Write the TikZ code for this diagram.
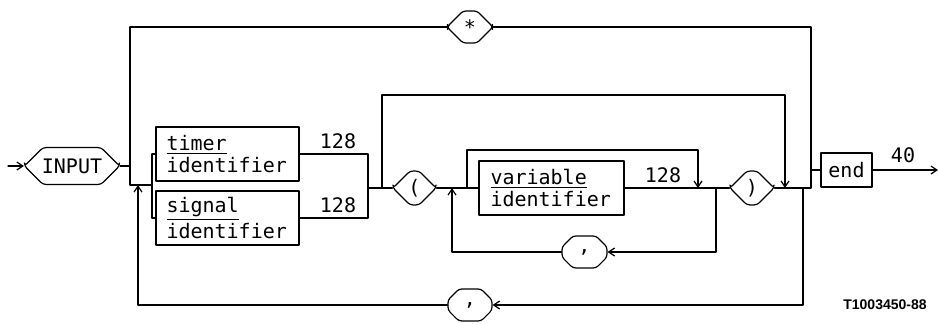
\documentclass[tikz,border=0pt]{standalone}
\usepackage{fontspec}
\setmainfont{DejaVu Sans Mono}
\newfontfamily\codefont{Liberation Sans}
\usetikzlibrary{shapes.misc,arrows.meta}

\tikzset{
  terminal/.style={draw, chamfered rectangle, chamfered rectangle xsep=5pt,
    chamfered rectangle ysep=5pt, minimum height=16pt, inner sep=0.5pt, rounded corners=1.5pt},
  ident/.style={draw, rectangle, minimum width=71.5pt, minimum height=27pt, text width=61pt,
    align=left, inner xsep=5pt, inner ysep=1pt, font=\fontsize{10}{11}\selectfont},
  motcle/.style={draw, rectangle, minimum width=25.5pt, minimum height=17pt, inner sep=1pt},
  numero/.style={inner sep=0pt},
  fleche/.style={-{Straight Barb[length=3pt,width=4pt]}},
}

\begin{document}
\begin{tikzpicture}[x=0.5pt, y=-0.5pt, line width=0.6pt, line join=round, line cap=round]

    \useasboundingbox (0,0) rectangle (939,323);

    % Les noeuds
    \node[terminal, minimum width=47.5pt] (input) at (72,166) {INPUT};
    \node[terminal, minimum width=22.5pt] (star) at (470,27) {*};
    \node[ident] (timer) at (227.5,154) {\underline{timer}\\identifier};
    \node[ident] (signal) at (227.5,218) {\underline{signal}\\identifier};
    \node[terminal, minimum width=21.5pt] (lpar) at (414.5,188) {(};
    \node[ident, minimum width=72.5pt] (var) at (551.5,188) {\underline{variable}\\identifier};
    \node[terminal, minimum width=22.5pt] (vcomma) at (584.5,252) {,};
    \node[terminal, minimum width=22pt] (rpar) at (752,188) {)};
    \node[motcle] (fin) at (846.5,170) {end};
    \node[terminal, minimum width=22pt] (icomma) at (470,305) {,};

    % Les numeros
    \node[numero] (ntimer) at (338,141) {128};
    \node[numero] (nsignal) at (338,205) {128};
    \node[numero] (nvar) at (663,175) {128};
    \node[numero] (nfin) at (903,155) {40};
    \node[numero, font=\codefont\bfseries\fontsize{7}{8}\selectfont] (code) at (885,305) {T1003450-88};

    % Points de jonction
    \coordinate (entree) at (8,166);
    \coordinate (a1) at (130,166);
    \coordinate (a2) at (130,27);
    \coordinate (a3) at (130,185);
    \coordinate (a4) at (152,185);
    \coordinate (s1) at (152,154);
    \coordinate (s2) at (152,218);
    \coordinate (t1) at (368,154);
    \coordinate (t2) at (368,218);
    \coordinate (t3) at (368,188);
    \coordinate (c1) at (382,188);
    \coordinate (c2) at (382,95);
    \coordinate (c3) at (785,95);
    \coordinate (c4) at (785,188);
    \coordinate (d1) at (467,188);
    \coordinate (d2) at (467,150);
    \coordinate (d3) at (698,150);
    \coordinate (d4) at (698,188);
    \coordinate (e1) at (716,188);
    \coordinate (e2) at (716,252);
    \coordinate (e3) at (452,252);
    \coordinate (e4) at (452,188);
    \coordinate (b1) at (811,27);
    \coordinate (b2) at (811,188);
    \coordinate (b3) at (811,170);
    \coordinate (sortie) at (938,170);
    \coordinate (f1) at (803,188);
    \coordinate (f2) at (803,305);
    \coordinate (f3) at (138,305);
    \coordinate (f4) at (138,185);

    % Chemin principal
    \draw[fleche] (entree) -- (input.west);
    \draw (input.east) -- (a1);
    \draw (a2) -- (a3) -- (a4);
    \draw (a2) -- (star.west);
    \draw (star.east) -- (b1) -- (b2);
    \draw (s1) -- (s2);
    \draw (s1) -- (timer.west);
    \draw (s2) -- (signal.west);
    \draw (timer.east) -- (t1) -- (t2) -- (signal.east);
    \draw (t3) -- (lpar.west);
    \draw (lpar.east) -- (var.west);
    \draw (var.east) -- (rpar.west);
    \draw (rpar.east) -- (b2);
    \draw (b3) -- (fin.west);
    \draw[fleche] (fin.east) -- (sortie);

    % Contournements
    \draw[fleche] (c1) -- (c2) -- (c3) -- (c4);
    \draw[fleche] (d1) -- (d2) -- (d3) -- (d4);

    % Boucle interne (virgule)
    \draw[fleche] (e1) -- (e2) -- (vcomma.east);
    \draw[fleche] (vcomma.west) -- (e3) -- (e4);

    % Boucle externe (virgule)
    \draw[fleche] (f1) -- (f2) -- (icomma.east);
    \draw[fleche] (icomma.west) -- (f3) -- (f4);

\end{tikzpicture}
\end{document}
